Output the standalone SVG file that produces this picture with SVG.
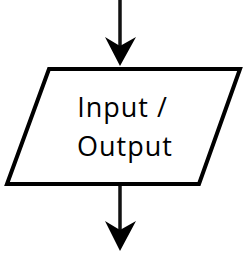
<svg xmlns="http://www.w3.org/2000/svg" width="248" height="253" viewBox="0 0 248 253">
<style>
.edge{stroke:#111;stroke-width:3.5;fill:none}
.head{fill:#000}
.shape{fill:#fff;stroke:#000;stroke-width:4}
.lbl{font-family:"Open Sans","Noto Sans",sans-serif;font-size:27px;letter-spacing:1px;fill:#000;text-anchor:middle}
</style>
<g id="connectors">
<line class="edge" x1="120" y1="0" x2="120" y2="55"/>
<path class="head" d="M120,66 L105,37 L120,46 L136,37 Z"/>
<line class="edge" x1="120" y1="185" x2="120" y2="240"/>
<path class="head" d="M120,251 L105,221 L120,230 L136,221 Z"/>
</g>
<g id="io">
<polygon class="shape" points="49,69 240,69 199,184 7,184"/>
<text class="lbl" x="122.5" y="117">Input /</text>
<text class="lbl" x="125" y="155.5">Output</text>
</g>
</svg>
